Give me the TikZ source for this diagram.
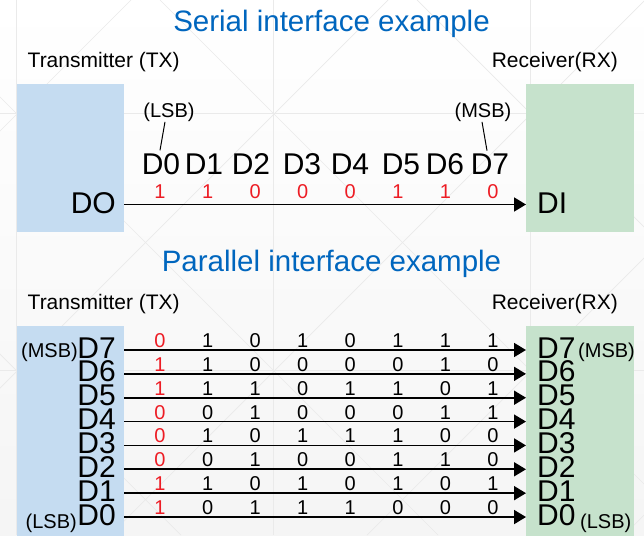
\documentclass[tikz,border=0pt]{standalone}
\usepackage{fontspec}
\setmainfont{Liberation Sans}
\usetikzlibrary{arrows.meta}

\definecolor{titleblue}{RGB}{0,102,190}
\definecolor{txfill}{RGB}{197,220,241}
\definecolor{rxfill}{RGB}{198,226,204}
\definecolor{bitred}{RGB}{237,28,36}
\definecolor{bggrid}{RGB}{234,234,234}

\newcommand{\fsz}[1]{\fontsize{#1}{#1}\selectfont}

\begin{document}
\begin{tikzpicture}[x=1pt,y=-1pt,
  heading/.style={text=titleblue, font=\fsz{29.5}, inner sep=0, anchor=base},
  sidelabel/.style={font=\fsz{21}, inner sep=0},
  pinlabel/.style={font=\fsz{30}, inner sep=0},
  sbl/.style={font=\fsz{20}, inner sep=0},
  bitval/.style={font=\fsz{20}, inner sep=0, anchor=base},
  txbox/.style={fill=txfill, draw=none, inner sep=0, outer sep=0, anchor=north west},
  rxbox/.style={fill=rxfill, draw=none, inner sep=0, outer sep=0, anchor=north west},
  wire/.style={line width=1.8pt, -{Triangle[length=12pt,width=14pt]}},
  leader/.style={line width=1pt},
]
\useasboundingbox (0,0) rectangle (644,535);

% faint background: square grid with crossed diagonals
\shade[top color=white, bottom color=black!4] (0,0) rectangle (644,535);
\begin{scope}
  \clip (0,0) rectangle (644,535);
  \begin{scope}[draw=bggrid, line width=0.7pt]
    \foreach \x in {16,273,530} \draw (\x,0) -- (\x,535);
    \foreach \y in {113,370} \draw (0,\y) -- (644,\y);
    \foreach \c in {131,388,645,902,1159} \draw (\c,0) -- ({\c-535},535);
    \foreach \d in {611,354,97,-160,-417,-674} \draw ({-(\d)},0) -- ({535-(\d)},535);
  \end{scope}
\end{scope}

% ---------------- serial interface ----------------
\node[heading] (t1) at (331.5,32) {Serial interface example};
\node[sidelabel, anchor=base west] (tx1) at (27.5,67) {Transmitter (TX)};
\node[sidelabel, anchor=base east] (rx1) at (618,67) {Receiver(RX)};

\node[txbox, minimum width=107, minimum height=148] (stx) at (17,84) {};
\node[rxbox, minimum width=108, minimum height=148] (srx) at (526,84) {};

\node[pinlabel, anchor=base east] (do) at (116,213) {DO};
\node[pinlabel, anchor=base west] (di) at (537,213) {DI};

\coordinate (sout) at (124,204.5);
\coordinate (sin)  at (526,204.5);
\draw[wire] (sout) -- (sin);

\foreach \n/\x in {0/161,1/204,2/251,3/302,4/350,5/401,6/445,7/490}
  \node[pinlabel, anchor=base] (sd\n) at (\x,174.5) {D\n};

\foreach \b [count=\i] in {1,1,0,0,0,1,1,0}
  \node[bitval, text=bitred] (sb\i) at ({160+47.57*(\i-1)},198) {\b};

\node[sbl, anchor=base] (slsb) at (169,117.5) {(LSB)};
\node[sbl, anchor=base] (smsb) at (483,117.5) {(MSB)};
\draw[leader] ([xshift=-4pt]slsb.south) -- ([xshift=-1pt,yshift=3pt]sd0.north);
\draw[leader] ([xshift=-1pt]smsb.south) -- ([xshift=-3pt,yshift=3pt]sd7.north);

% ---------------- parallel interface ----------------
\node[heading] (t2) at (331.5,271) {Parallel interface example};
\node[sidelabel, anchor=base west] (tx2) at (27.5,309) {Transmitter (TX)};
\node[sidelabel, anchor=base east] (rx2) at (618,309) {Receiver(RX)};

\node[txbox, minimum width=107, minimum height=212] (ptx) at (17,326) {};
\node[rxbox, minimum width=108, minimum height=212] (prx) at (526,326) {};

\foreach \n/\k/\bits in {7/0/{0,1,0,1,0,1,1,1},
                         6/1/{1,1,0,0,0,0,1,0},
                         5/2/{1,1,1,0,1,1,0,1},
                         4/3/{0,0,1,0,0,0,1,1},
                         3/4/{0,1,0,1,1,1,0,0},
                         2/5/{0,0,1,0,0,1,1,0},
                         1/6/{1,1,0,1,0,1,0,1},
                         0/7/{1,0,1,1,1,0,0,0}} {
  \pgfmathsetmacro\yy{350+23.86*\k}
  \node[pinlabel, anchor=base east] (pl\n) at (116,\yy+8) {D\n};
  \node[pinlabel, anchor=base west] (pr\n) at (537,\yy+8) {D\n};
  \coordinate (po\n) at (124,\yy);
  \coordinate (pi\n) at (526,\yy);
  \draw[wire] (po\n) -- (pi\n);
  \foreach \b [count=\i] in \bits {
    \ifnum\i=1 \def\bc{bitred}\else\def\bc{black}\fi
    \node[bitval, text=\bc] (pb\n-\i) at ({160+47.57*(\i-1)},\yy-2.5) {\b};
  }
}

\node[sbl, anchor=base east] (plmsb) at (78,357) {(MSB)};
\node[sbl, anchor=base east] (pllsb) at (77,528.5) {(LSB)};
\node[sbl, anchor=base west] (prmsb) at (578,357) {(MSB)};
\node[sbl, anchor=base west] (prlsb) at (580,528.5) {(LSB)};
\end{tikzpicture}
\end{document}
